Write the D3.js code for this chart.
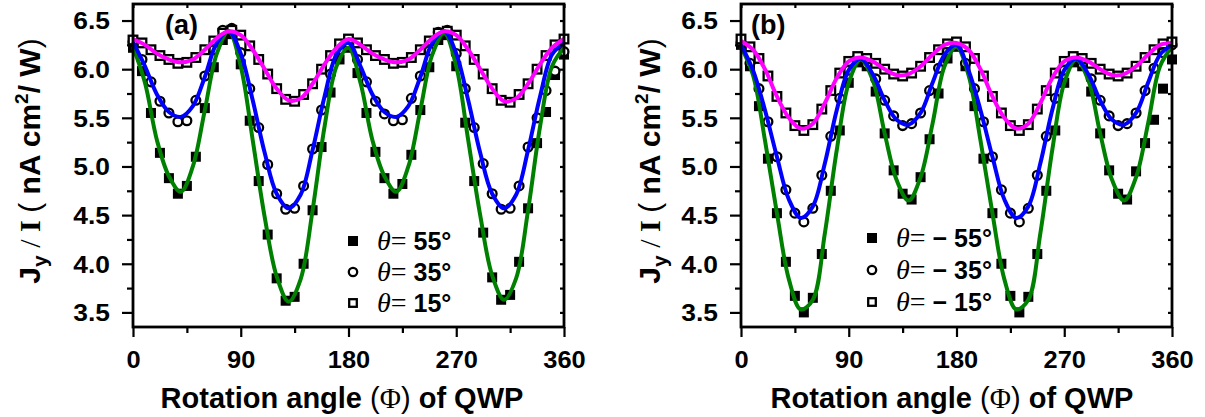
<!DOCTYPE html>
<html>
<head>
<meta charset="utf-8">
<script src="https://cdn.jsdelivr.net/npm/d3@7"></script>
<style>
  body { margin: 0; background: #fff; }
  text { font-family: "Liberation Sans", Arial, sans-serif; font-weight: bold; fill: #000; }
</style>
</head>
<body>
<svg id="chart"></svg>
<script>
const width = 1205;
const height = 417;

const fitPhi = [0,10,20,30,40,50,60,70,80,90,100,110,120,130,140,150,160,170,180,
                190,200,210,220,230,240,250,260,270,280,290,300,310,320,330,340,350,360];

const fitA55 = [6.23,5.86,5.27,4.90,4.74,5.00,5.58,6.16,6.39,6.03,5.27,4.48,3.87,3.61,3.84,4.55,5.41,6.03,6.22,
                5.86,5.27,4.90,4.74,5.00,5.58,6.15,6.37,6.03,5.27,4.50,3.88,3.63,3.85,4.55,5.41,6.03,6.22];
const fitA35 = [6.28,6.03,5.74,5.56,5.51,5.62,5.92,6.27,6.39,6.16,5.68,5.14,4.72,4.57,4.71,5.17,5.72,6.15,6.27,
                6.03,5.74,5.56,5.51,5.62,5.92,6.27,6.39,6.16,5.68,5.14,4.72,4.57,4.71,5.17,5.72,6.15,6.27];
const fitA15 = [6.31,6.25,6.16,6.10,6.07,6.10,6.20,6.32,6.39,6.35,6.20,6.00,5.80,5.68,5.70,5.85,6.05,6.22,6.31,
                6.25,6.16,6.10,6.07,6.10,6.20,6.32,6.39,6.35,6.20,6.00,5.80,5.67,5.70,5.85,6.05,6.22,6.31];

const fitB55 = [6.23,5.94,5.27,4.52,3.84,3.53,3.63,4.31,5.17,5.86,6.10,5.89,5.34,4.86,4.65,4.89,5.44,6.03,6.23,
                5.94,5.27,4.52,3.84,3.53,3.63,4.31,5.17,5.86,6.10,5.89,5.34,4.86,4.65,4.89,5.44,6.03,6.23];
const fitB35 = [6.25,5.99,5.58,5.10,4.66,4.47,4.59,5.03,5.58,5.99,6.11,5.95,5.68,5.48,5.43,5.55,5.86,6.15,6.25,
                5.99,5.58,5.10,4.66,4.47,4.59,5.03,5.58,5.99,6.11,5.95,5.68,5.48,5.43,5.55,5.86,6.15,6.25];
const fitB15 = [6.29,6.20,6.00,5.72,5.50,5.39,5.44,5.65,5.91,6.08,6.12,6.08,6.00,5.94,5.95,6.03,6.15,6.25,6.27,
                6.20,6.00,5.72,5.50,5.39,5.44,5.65,5.91,6.08,6.12,6.08,6.00,5.94,5.95,6.03,6.15,6.25,6.27];

// Measured points, every 7.5 degrees
const dataPhi = [0,7.5,15,22.5,30,37.5,45,52.5,60,67.5,75,82.5,90,97.5,105,112.5,120,127.5,135,142.5,150,157.5,165,172.5,
                 180,187.5,195,202.5,210,217.5,225,232.5,240,247.5,255,262.5,270,277.5,285,292.5,300,307.5,315,322.5,330,337.5,345,352.5,360];

const dataA55 = [6.22,5.98,5.55,5.14,4.88,4.72,4.80,5.10,5.60,6.02,6.30,6.36,6.05,5.47,4.85,4.30,3.85,3.62,3.66,4.00,4.55,5.20,5.76,6.10,
                 6.22,5.96,5.55,5.15,4.88,4.72,4.82,5.12,5.58,6.02,6.30,6.35,6.03,5.45,4.85,4.32,3.86,3.63,3.68,4.02,4.57,5.24,5.56,5.94,6.15];
const dataA35 = [6.28,6.10,5.87,5.67,5.55,5.46,5.47,5.68,5.93,6.20,6.40,6.42,6.17,5.80,5.40,5.02,4.72,4.56,4.57,4.80,5.18,5.58,5.95,6.20,
                 6.27,6.10,5.87,5.67,5.54,5.47,5.48,5.70,5.93,6.19,6.38,6.40,6.16,5.80,5.40,5.03,4.72,4.56,4.57,4.80,5.20,5.50,5.78,5.98,6.18];
const dataA15 = [6.30,6.27,6.20,6.14,6.10,6.06,6.07,6.12,6.20,6.29,6.37,6.40,6.35,6.24,6.10,5.95,5.80,5.69,5.67,5.74,5.85,6.00,6.14,6.26,
                 6.31,6.27,6.20,6.14,6.10,6.06,6.07,6.12,6.20,6.29,6.37,6.39,6.35,6.24,6.10,5.95,5.80,5.68,5.66,5.74,5.85,6.00,6.14,6.25,6.31];

const dataB55 = [6.25,6.03,5.62,5.08,4.52,4.02,3.67,3.50,3.65,4.10,4.75,5.37,5.86,6.07,6.03,5.77,5.34,4.96,4.72,4.66,4.89,5.28,5.75,6.11,
                 6.23,6.03,5.62,5.08,4.52,4.00,3.67,3.50,3.66,4.10,4.75,5.37,5.86,6.07,6.03,5.77,5.34,4.96,4.72,4.66,4.95,5.24,5.48,5.80,6.10];
const dataB35 = [6.27,6.06,5.80,5.46,5.10,4.76,4.52,4.43,4.57,4.91,5.31,5.70,5.99,6.12,6.05,5.90,5.68,5.52,5.42,5.44,5.55,5.78,6.01,6.19,
                 6.25,6.06,5.80,5.46,5.10,4.76,4.52,4.43,4.57,4.91,5.31,5.70,5.99,6.12,6.05,5.90,5.68,5.52,5.42,5.44,5.55,5.78,6.01,6.17,6.25];
const dataB15 = [6.31,6.23,6.11,5.93,5.72,5.55,5.42,5.37,5.43,5.59,5.78,5.96,6.08,6.13,6.11,6.06,6.00,5.95,5.93,5.96,6.03,6.12,6.20,6.26,
                 6.28,6.23,6.11,5.93,5.72,5.55,5.42,5.37,5.43,5.59,5.78,5.96,6.08,6.13,6.11,6.06,6.00,5.95,5.93,5.96,6.03,6.12,6.20,6.26,6.28];

const xTicks = [0, 90, 180, 270, 360];
const xMinor = [45, 135, 225, 315];
const yTicks = [3.5, 4.0, 4.5, 5.0, 5.5, 6.0, 6.5];
const yMinor = [3.75, 4.25, 4.75, 5.25, 5.75, 6.25];
const legendA = ["55°", "35°", "15°"];
const legendB = ["− 55°", "− 35°", "− 15°"];

const colors = ["#008000", "#0000ff", "#ff00ff"];

const svg = d3.select("#chart")
    .attr("width", width)
    .attr("height", height)
    .attr("viewBox", `0 0 ${width} ${height}`);

const y = d3.scaleLinear().domain([3.35, 6.67]).range([327, 4]);

function drawPanel(p) {
    const x = d3.scaleLinear().domain([0, 360]).range([p.x0, p.x1]);
    const g = svg.append("g");

    // markers (drawn under the fit lines)
    const pts = d => d3.zip(dataPhi, d);
    g.append("g").selectAll("rect")
        .data(pts(p.data[0])).enter().append("rect")
        .attr("x", d => x(d[0]) - 5).attr("y", d => y(d[1]) - 5)
        .attr("width", 10).attr("height", 10).attr("fill", "#000");
    g.append("g").selectAll("circle")
        .data(pts(p.data[1])).enter().append("circle")
        .attr("cx", d => x(d[0])).attr("cy", d => y(d[1])).attr("r", 4.4)
        .attr("fill", "#fff").attr("stroke", "#000").attr("stroke-width", 2.3);
    g.append("g").selectAll("rect")
        .data(pts(p.data[2])).enter().append("rect")
        .attr("x", d => x(d[0]) - 4.3).attr("y", d => y(d[1]) - 4.3)
        .attr("width", 8.6).attr("height", 8.6)
        .attr("fill", "#fff").attr("stroke", "#000").attr("stroke-width", 2.3);

    // fit lines
    const line = d3.line().x(d => x(d[0])).y(d => y(d[1])).curve(d3.curveCatmullRom);
    p.fits.forEach((f, i) => {
        g.append("path")
            .datum(d3.zip(fitPhi, f))
            .attr("fill", "none")
            .attr("stroke", colors[i])
            .attr("stroke-width", 4)
            .attr("d", line);
    });

    // axes
    const bottom = g.append("g").attr("transform", "translate(0,327)")
        .call(d3.axisBottom(x).tickValues(xTicks).tickSize(10).tickFormat(d3.format("d")));
    bottom.selectAll("text").attr("y", 41).attr("dy", null)
        .style("font-size", "24px").attr("transform", "scale(1.06,1)");
    g.append("g").attr("transform", "translate(0,327)")
        .call(d3.axisBottom(x).tickValues(xMinor).tickSize(6).tickFormat(""));
    g.append("g").attr("transform", "translate(0,4)")
        .call(d3.axisTop(x).tickValues(xTicks.concat(xMinor)).tickSize(-4).tickFormat(""));

    const left = g.append("g").attr("transform", `translate(${p.x0},0)`)
        .call(d3.axisLeft(y).tickValues(yTicks).tickSize(11).tickFormat(d3.format(".1f")));
    left.selectAll("text").attr("x", -21).attr("dy", "0.35em")
        .style("font-size", "24px").attr("transform", "scale(1.1,1)");
    g.append("g").attr("transform", `translate(${p.x0},0)`)
        .call(d3.axisLeft(y).tickValues(yMinor).tickSize(6).tickFormat(""));
    g.append("g").attr("transform", `translate(${p.x1},0)`)
        .call(d3.axisRight(y).tickValues(yTicks.concat(yMinor)).tickSize(-4).tickFormat(""));

    g.selectAll(".domain").remove();
    g.selectAll(".tick line").attr("stroke-width", 2.2);

    g.append("rect")
        .attr("x", p.x0).attr("y", 4)
        .attr("width", p.x1 - p.x0).attr("height", 323)
        .attr("fill", "none").attr("stroke", "#000").attr("stroke-width", 2.8);

    // panel tag
    g.append("text").attr("x", p.x0 + p.tagDx).attr("y", 34)
        .style("font-size", "27px").text(p.tag);

    // legend
    const lg = g.append("g");
    p.legend.forEach((t, i) => {
        const cy = p.legY[i];
        const mx = p.legX;
        if (i === 0) {
            lg.append("rect").attr("x", mx - 5).attr("y", cy - 5)
                .attr("width", 10).attr("height", 10).attr("fill", "#000");
        } else if (i === 1) {
            lg.append("circle").attr("cx", mx).attr("cy", cy).attr("r", 4.2)
                .attr("fill", "#fff").attr("stroke", "#000").attr("stroke-width", 2.3);
        } else {
            lg.append("rect").attr("x", mx - 3.8).attr("y", cy - 3.8)
                .attr("width", 7.6).attr("height", 7.6)
                .attr("fill", "#fff").attr("stroke", "#000").attr("stroke-width", 2.3);
        }
        const tx = lg.append("text").attr("x", mx + 24).attr("y", cy + 9)
            .style("font-size", "25px");
        tx.append("tspan").style("font-family", "'Liberation Serif', serif")
            .style("font-style", "italic").style("font-weight", "normal")
            .style("font-size", "28px").text("θ");
        tx.append("tspan").style("font-family", "'Liberation Serif', serif")
            .style("font-weight", "normal").style("font-size", "28px").text("= ");
        tx.append("tspan").text(t);
    });

    // y label
    const yl = g.append("text")
        .attr("transform", `translate(${p.yLabX},161) rotate(-90)`)
        .attr("text-anchor", "middle")
        .style("font-size", "30px");
    yl.append("tspan").text("J");
    yl.append("tspan").attr("dy", 7).style("font-size", "21px").text("y");
    yl.append("tspan").attr("dy", -7).style("font-family", "'Liberation Serif', serif")
        .style("font-weight", "normal").text(" / ");
    yl.append("tspan").style("font-family", "'Liberation Serif', serif").text("I ");
    yl.append("tspan").style("font-weight", "normal").text("(");
    yl.append("tspan").text(" nA cm");
    yl.append("tspan").attr("dy", -12).style("font-size", "19px").text("2");
    yl.append("tspan").attr("dy", 12).text("/ W");
    yl.append("tspan").style("font-weight", "normal").text(")");

    // x label
    const xl = g.append("text")
        .attr("x", p.xLabX).attr("y", 408)
        .attr("text-anchor", "middle")
        .style("font-size", "29px");
    xl.append("tspan").text("Rotation angle ");
    xl.append("tspan").style("font-weight", "normal").text("(");
    xl.append("tspan").style("font-family", "'Liberation Serif', serif")
        .style("font-weight", "normal").text("Φ");
    xl.append("tspan").style("font-weight", "normal").text(")");
    xl.append("tspan").text(" of QWP");
}

drawPanel({
    x0: 133, x1: 564, tag: "(a)", tagDx: 32,
    fits: [fitA55, fitA35, fitA15],
    data: [dataA55, dataA35, dataA15],
    legend: legendA, legX: 353, legY: [241, 272, 303],
    yLabX: 40, xLabX: 342
});

drawPanel({
    x0: 741, x1: 1172, tag: "(b)", tagDx: 10,
    fits: [fitB55, fitB35, fitB15],
    data: [dataB55, dataB35, dataB15],
    legend: legendB, legX: 872, legY: [238, 270, 302],
    yLabX: 660, xLabX: 952
});
</script>
</body>
</html>
